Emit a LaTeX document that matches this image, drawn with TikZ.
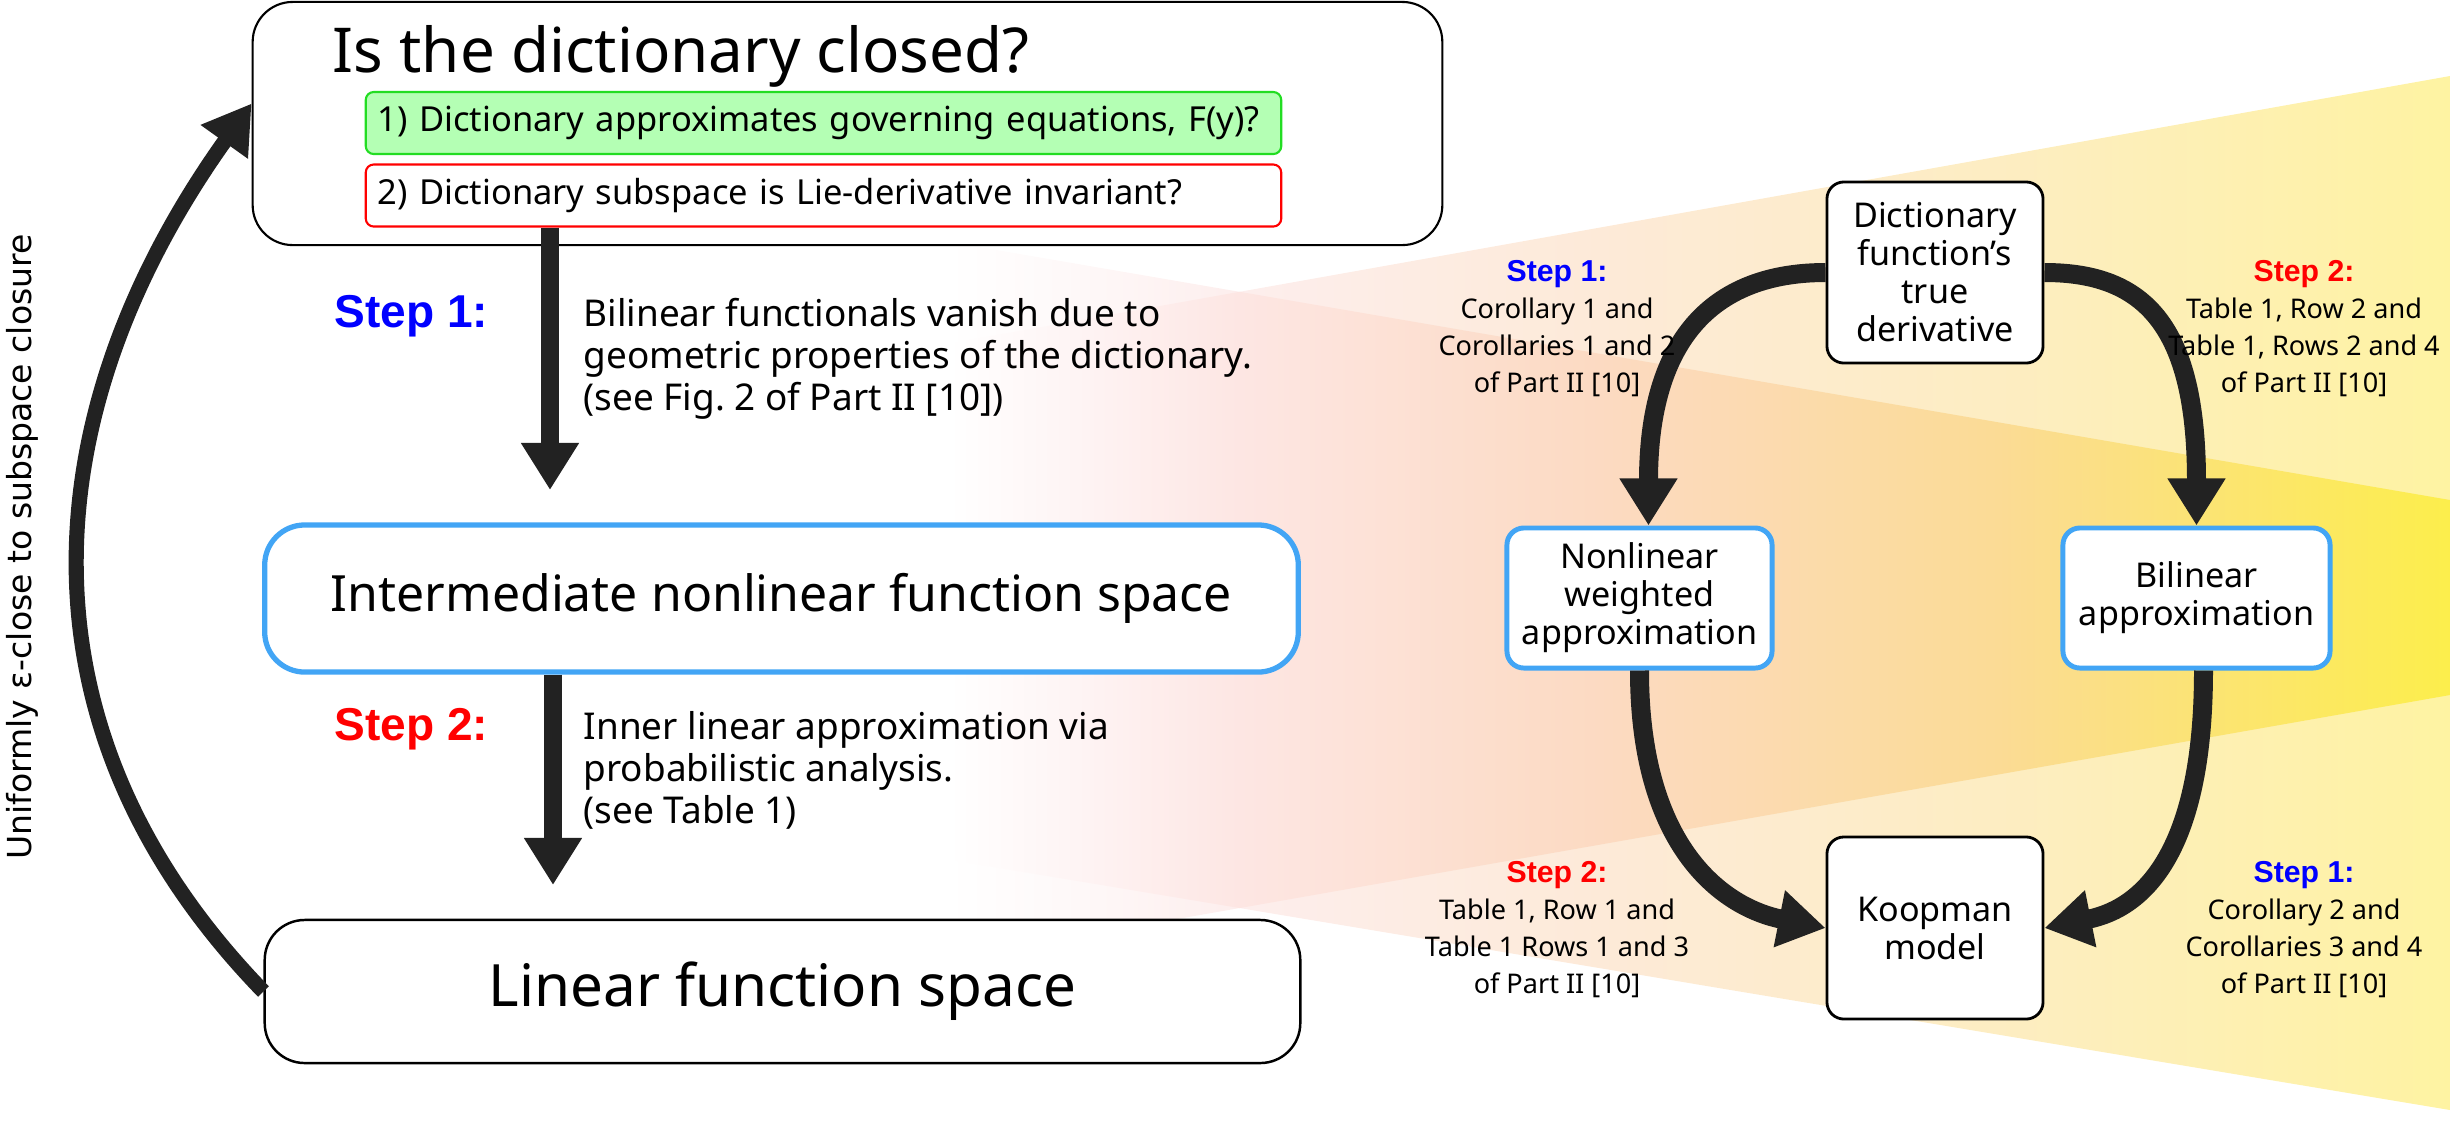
\documentclass[tikz,border=0pt]{standalone}
\usepackage{fontspec}
\setmainfont{Noto Sans}
\newfontfamily\sidefont{DejaVu Sans}
\newfontfamily\boldsans{Liberation Sans}
\usetikzlibrary{arrows.meta}
\definecolor{boxblue}{HTML}{42A5F5}
\definecolor{stepblue}{HTML}{0000FF}
\definecolor{stepred}{HTML}{FF0000}
\definecolor{qgreen}{HTML}{B4FFB4}
\definecolor{qgreenline}{HTML}{22DD22}
\definecolor{arrowdark}{HTML}{222222}
% cone colours, one layer and two layers
\definecolor{csa}{HTML}{FEF7F7}
\definecolor{csb}{HTML}{FDEEED}
\definecolor{csc}{HTML}{FDEAD8}
\definecolor{csd}{HTML}{FDEDC2}
\definecolor{cse}{HTML}{FEF3A2}
\definecolor{cda}{HTML}{FEF2F2}
\definecolor{cdb}{HTML}{FDE6E3}
\definecolor{cdc}{HTML}{FCDAC2}
\definecolor{cdd}{HTML}{FBDB95}
\definecolor{cde}{HTML}{FCEE4C}
\pgfdeclarehorizontalshading{conesingle}{100bp}{color(0bp)=(white); color(32.1bp)=(white); color(36.4bp)=(csa);
  color(40.4bp)=(csb); color(50.7bp)=(csc); color(62.1bp)=(csd); color(75bp)=(cse); color(100bp)=(cse)}
\pgfdeclarehorizontalshading{conedouble}{100bp}{color(0bp)=(white); color(32.1bp)=(white); color(36.4bp)=(cda);
  color(40.4bp)=(cdb); color(50.7bp)=(cdc); color(62.1bp)=(cdd); color(75bp)=(cde); color(100bp)=(cde)}
\newcommand{\fsz}[2]{\fontsize{#1}{#2}\selectfont}

\begin{document}
\begin{tikzpicture}[x=0.01cm, y=-0.01cm,
    bigbox/.style={draw=black, line width=0.6pt, fill=white, rounded corners=0.4cm},
    bluebox/.style={draw=boxblue, line width=1.5pt, fill=white, rounded corners=0.4cm},
    qbox/.style={line width=0.6pt, rounded corners=0.08cm, minimum height=0.62cm, text width=8.91cm,
                 inner xsep=0.12cm, align=left, font=\fsz{9.8}{12}},
    kbox/.style={draw=black, line width=0.8pt, fill=white, rounded corners=0.17cm, align=center,
                 font=\fsz{9.7}{10.8}},
    kblue/.style={kbox, draw=boxblue, line width=1.4pt},
    steplbl/.style={font=\boldsans\bfseries\fsz{13.1}{15}, anchor=base west, inner sep=0pt},
    steptxt/.style={font=\fsz{10.5}{11.9}, align=left, anchor=north west, inner sep=0pt},
    refs/.style={font=\fsz{7.7}{10.5}, align=center, anchor=north, inner sep=0pt},
    arr/.style={arrowdark, line width=5.4pt, -{Triangle[width=15.6pt, length=13.4pt]}}]
  \useasboundingbox (0,0) rectangle (2450,1120);

  % cones behind the right-hand diagram
  \shade[shading=conesingle] (700,199) -- (2450,500) -- (2450,695) -- (700,1003) -- cycle;
  \shade[shading=conesingle] (700,388) -- (2450,76) -- (2450,1110) -- (700,818) -- cycle;
  \begin{scope}
    \clip (700,199) -- (2450,500) -- (2450,695) -- (700,1003) -- cycle;
    \shade[shading=conedouble] (700,388) -- (2450,76) -- (2450,1110) -- (700,818) -- cycle;
  \end{scope}

  % left column
  \node[bigbox, minimum width=11.89cm, minimum height=2.43cm] (top) at (847.5,123.5) {};
  \node[font=\fsz{17.6}{21}, anchor=base west, inner sep=0pt] (title) at (332,72) {Is the dictionary closed?};
  \node[qbox, draw=qgreenline, fill=qgreen] (q1) at (823.5,123) {1) Dictionary approximates governing equations, F(y)?};
  \node[qbox, draw=stepred, fill=white] (q2) at (823.5,195.5) {2) Dictionary subspace is Lie-derivative invariant?};
  \node[bluebox, minimum width=10.33cm, minimum height=1.47cm, font=\fsz{14.2}{17}] (mid) at (781.5,598.5)
    {Intermediate nonlinear function space};
  \node[bigbox, line width=0.7pt, minimum width=10.35cm, minimum height=1.43cm, font=\fsz{16.6}{20}] (lin) at (782.5,991.5)
    {Linear function space};

  \coordinate (tip1) at (550,490);
  \coordinate (tip2) at (553,885);
  \foreach \a/\b in {q2/tip1, mid/tip2} \draw[arr] (\a.south -| \b) -- (\b);

  \node[steplbl, text=stepblue] (s1) at (334,327) {Step 1:};
  \node[steptxt] (t1) at (583,298) {Bilinear functionals vanish due to\\geometric properties of the dictionary.\\(see Fig.~2 of Part II [10])};
  \node[steplbl, text=stepred] (s2) at (334,740) {Step 2:};
  \node[steptxt] (t2) at (583,711) {Inner linear approximation via\\probabilistic analysis.\\(see Table 1)};

  \draw[arr, line width=4.3pt] (lin.west) .. controls (0,720) and (40,400) .. ([yshift=0.2cm]top.west);
  \node[rotate=90, font=\sidefont\fsz{9.4}{11}] (eps) at (22,547) {Uniformly ε-close to subspace closure};

  % right-hand diagram
  \node[kbox, minimum width=2.16cm, minimum height=1.81cm] (dict) at (1935,272.5) {Dictionary\\function’s\\true\\derivative};
  \node[kblue, minimum width=2.65cm, minimum height=1.40cm] (nonl) at (1639.5,598) {Nonlinear\\weighted\\approximation};
  \node[kblue, minimum width=2.67cm, minimum height=1.40cm] (bil) at (2196.5,598) {Bilinear\\approximation};
  \node[kbox, minimum width=2.16cm, minimum height=1.82cm] (koop) at (1935,928) {Koopman\\model};

  \draw[arr] (dict.west) .. controls +(-100,0) and +(0,-200) .. ([xshift=0.09cm]nonl.north);
  \draw[arr] (dict.east) .. controls +(100,0) and +(0,-200) .. (bil.north);
  \draw[arr] (nonl.south) .. controls +(0,180) and +(-100,-20) .. (koop.west);
  \draw[arr] ([xshift=0.07cm]bil.south) .. controls +(0,180) and +(100,-20) .. (koop.east);

  \node[refs] (r1) at (1557,260) {{\color{stepblue}\boldsans\bfseries\fsz{8.6}{10.5}Step 1:}\\Corollary 1 and\\Corollaries 1 and 2\\of Part II [10]};
  \node[refs] (r2) at (2304,260) {{\color{stepred}\boldsans\bfseries\fsz{8.6}{10.5}Step 2:}\\Table 1, Row 2 and\\Table 1, Rows 2 and 4\\of Part II [10]};
  \node[refs] (r3) at (1557,861) {{\color{stepred}\boldsans\bfseries\fsz{8.6}{10.5}Step 2:}\\Table 1, Row 1 and\\Table 1 Rows 1 and 3\\of Part II [10]};
  \node[refs] (r4) at (2304,861) {{\color{stepblue}\boldsans\bfseries\fsz{8.6}{10.5}Step 1:}\\Corollary 2 and\\Corollaries 3 and 4\\of Part II [10]};
\end{tikzpicture}
\end{document}
